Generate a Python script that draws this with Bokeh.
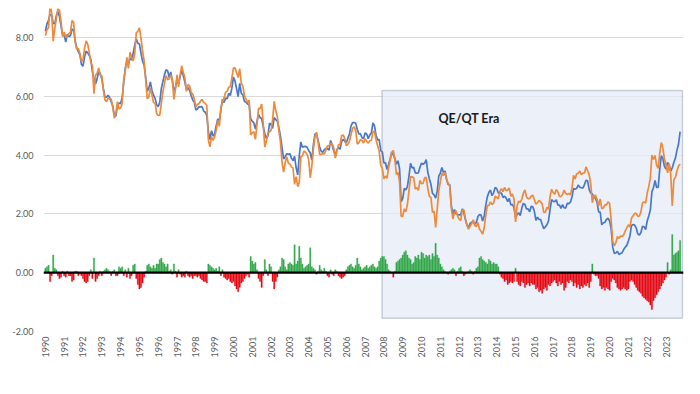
import math
from bokeh.plotting import figure
from bokeh.models import (ColumnDataSource, BoxAnnotation, Span, Label, Legend, LegendItem,
                          FixedTicker, NumeralTickFormatter, Range1d)
from bokeh.embed import file_html
from bokeh.resources import INLINE

start_year = 1990
year_ticks = list(range(1990, 2024))
y_ticks = [-2, 0, 2, 4, 6, 8]
era_label = "QE/QT Era"
era_start, era_end = 2007.9, 2023.88
era_bottom, era_top = -1.55, 6.2

# Monthly 10-year yields, Jan 1990 .. Oct 2023
ten_year_yield = [
    8.21, 8.47, 8.59, 8.79, 8.76, 8.48, 8.47, 8.75, 8.89, 8.72, 8.39, 8.08,
    8.09, 7.85, 8.11, 8.04, 8.07, 8.28, 8.27, 7.90, 7.65, 7.53, 7.42, 7.09,
    7.03, 7.34, 7.54, 7.48, 7.39, 7.26, 6.84, 6.59, 6.42, 6.59, 6.87, 6.77,
    6.60, 6.26, 5.98, 5.97, 6.04, 5.96, 5.81, 5.68, 5.36, 5.33, 5.72, 5.77,
    5.75, 5.97, 6.48, 6.97, 7.18, 7.10, 7.30, 7.24, 7.46, 7.74, 7.96, 7.81,
    7.78, 7.47, 7.20, 7.06, 6.63, 6.17, 6.28, 6.49, 6.20, 6.04, 5.93, 5.71,
    5.65, 5.81, 6.27, 6.51, 6.74, 6.91, 6.87, 6.64, 6.83, 6.53, 6.20, 6.30,
    6.58, 6.42, 6.69, 6.89, 6.71, 6.49, 6.22, 6.30, 6.21, 6.03, 5.88, 5.81,
    5.54, 5.57, 5.65, 5.64, 5.65, 5.50, 5.46, 5.34, 4.81, 4.53, 4.83, 4.65,
    4.72, 5.00, 5.23, 5.18, 5.54, 5.90, 5.79, 5.94, 5.92, 6.11, 6.03, 6.28,
    6.66, 6.52, 6.26, 5.99, 6.44, 6.10, 6.05, 5.83, 5.80, 5.74, 5.72, 5.24,
    5.16, 5.10, 4.89, 5.14, 5.39, 5.28, 5.24, 4.97, 4.73, 4.57, 4.65, 5.09,
    5.04, 4.91, 5.28, 5.21, 5.16, 4.93, 4.65, 4.26, 3.87, 3.94, 4.05, 4.03,
    4.05, 3.90, 3.81, 3.96, 3.57, 3.33, 3.98, 4.45, 4.27, 4.29, 4.30, 4.27,
    4.15, 4.08, 3.83, 4.35, 4.72, 4.73, 4.50, 4.28, 4.13, 4.10, 4.19, 4.23,
    4.22, 4.17, 4.50, 4.34, 4.14, 4.00, 4.18, 4.26, 4.20, 4.46, 4.54, 4.47,
    4.42, 4.57, 4.72, 4.99, 5.11, 5.11, 5.09, 4.88, 4.72, 4.73, 4.60, 4.56,
    4.76, 4.72, 4.56, 4.69, 4.75, 5.10, 5.00, 4.67, 4.52, 4.53, 4.15, 4.10,
    3.74, 3.74, 3.51, 3.68, 3.88, 4.10, 4.01, 3.89, 3.69, 3.81, 3.53, 2.42,
    2.52, 2.87, 2.82, 2.93, 3.29, 3.72, 3.56, 3.59, 3.40, 3.39, 3.40, 3.59,
    3.73, 3.69, 3.73, 3.85, 3.42, 3.20, 3.01, 2.70, 2.65, 2.54, 2.76, 3.29,
    3.39, 3.58, 3.41, 3.46, 3.17, 3.00, 3.00, 2.30, 1.98, 2.15, 2.01, 1.98,
    1.97, 1.97, 2.17, 2.05, 1.80, 1.62, 1.53, 1.68, 1.72, 1.75, 1.65, 1.72,
    1.91, 1.98, 1.96, 1.76, 1.93, 2.30, 2.58, 2.74, 2.81, 2.62, 2.72, 2.90,
    2.86, 2.71, 2.72, 2.71, 2.56, 2.60, 2.54, 2.42, 2.53, 2.30, 2.33, 2.21,
    1.88, 1.98, 2.04, 1.94, 2.20, 2.36, 2.32, 2.17, 2.17, 2.07, 2.26, 2.24,
    2.09, 1.78, 1.89, 1.81, 1.81, 1.64, 1.50, 1.56, 1.63, 1.76, 2.14, 2.49,
    2.43, 2.42, 2.48, 2.30, 2.30, 2.19, 2.32, 2.21, 2.20, 2.36, 2.35, 2.40,
    2.58, 2.86, 2.84, 2.87, 2.98, 2.91, 2.89, 2.89, 3.00, 3.15, 3.12, 2.83,
    2.71, 2.68, 2.57, 2.53, 2.40, 2.07, 2.06, 1.63, 1.70, 1.71, 1.81, 1.86,
    1.76, 1.50, 0.87, 0.66, 0.67, 0.73, 0.62, 0.65, 0.68, 0.79, 0.87, 0.93,
    1.08, 1.26, 1.61, 1.64, 1.62, 1.52, 1.32, 1.28, 1.37, 1.58, 1.56, 1.47,
    1.76, 1.93, 2.13, 2.75, 2.90, 3.14, 2.90, 2.90, 3.52, 3.98, 3.89, 3.62,
    3.53, 3.75, 3.66, 3.46, 3.57, 3.75, 3.90, 4.17, 4.38, 4.80,
]

# Monthly difference (10-year yield minus model fair value yield)
difference = [
    0.15, 0.2, 0.25, -0.3, -0.1, 0.6, 0.15, 0.1, -0.1, -0.2, -0.15, 0.05,
    -0.1, -0.15, 0.05, -0.1, -0.1, -0.3, -0.25, 0.05, 0.05, -0.1, -0.05, -0.1,
    -0.2, -0.3, -0.35, -0.3, -0.1, 0.1, -0.2, 0.5, -0.3, -0.2, -0.1, 0.05,
    -0.1, 0.05, 0.1, 0.15, 0.1, 0.05, -0.1, 0.05, 0.1, -0.1, -0.1, 0.2,
    0.15, 0.2, -0.1, 0.1, -0.15, 0.15, -0.2, -0.1, 0.25, 0.3, -0.2, -0.4,
    -0.55, -0.5, -0.35, -0.15, 0.05, 0.25, 0.3, 0.2, 0.15, 0.25, 0.15, 0.3,
    0.3, 0.45, 0.5, 0.35, 0.3, 0.2, 0.3, 0.05, 0.1, -0.05, 0.3, 0.05,
    -0.15, 0.1, -0.05, -0.15, -0.1, -0.15, 0.05, -0.1, -0.15, -0.1, -0.2, -0.1,
    -0.1, -0.15, -0.1, -0.2, -0.25, -0.3, -0.3, -0.35, 0.3, 0.25, 0.2, 0.15,
    0.1, 0.15, 0.05, 0.2, -0.1, 0.1, -0.15, -0.2, -0.25, -0.2, -0.3, -0.35,
    -0.3, -0.45, -0.55, -0.65, -0.5, -0.35, -0.3, -0.2, -0.1, -0.05, -0.15, 0.55,
    0.4, 0.3, 0.35, 0.1, -0.2, -0.3, -0.5, -0.1, 0.45, 0.1, -0.1, 0.3,
    0.2, -0.3, -0.55, -0.3, -0.15, 0.1, 0.2, 0.5, 0.45, 0.2, 0.1, 0.3,
    0.35, 0.3, 0.25, 0.95, 0.3, 0.4, 0.9, 0.5, 0.3, 0.15, 0.2, 0.25,
    0.3, 0.85, 0.2, 0.15, 0.1, -0.05, 0.05, 0.25, 0.1, 0.05, 0.15, 0.05,
    -0.1, -0.15, 0.1, -0.05, -0.1, 0.1, 0.05, -0.1, -0.15, -0.2, -0.15, -0.1,
    0.1, 0.2, 0.25, 0.3, 0.2, 0.15, 0.25, 0.5, 0.3, 0.2, 0.1, 0.15,
    0.2, 0.25, 0.15, 0.2, 0.25, 0.3, 0.2, 0.15, 0.2, 0.4, 0.5, 0.55,
    0.55, 0.45, 0.3, 0.1, 0.05, 0.0, -0.15, 0.05, 0.35, 0.4, 0.45, 0.5,
    0.6, 0.7, 0.75, 0.6, 0.5, 0.45, 0.3, 0.35, 0.55, 0.5, 0.6, 0.45,
    0.7, 0.65, 0.5, 0.6, 0.55, 0.6, 0.45, 0.65, 0.55, 1.0, 0.6, 0.5,
    0.3, 0.2, 0.1, 0.05, 0.0, -0.05, 0.05, 0.1, 0.15, 0.1, -0.1, 0.05,
    0.15, 0.2, 0.05, -0.1, -0.05, 0.0, 0.05, 0.1, 0.05, -0.05, 0.05, 0.15,
    0.2, 0.5, 0.55, 0.45, 0.4, 0.35, 0.3, 0.45, 0.4, 0.3, 0.35, 0.3,
    0.3, 0.2, -0.05, -0.15, -0.2, -0.3, -0.25, -0.4, -0.35, -0.3, -0.35, -0.3,
    0.15, -0.3, -0.4, -0.45, -0.3, -0.35, -0.5, -0.4, -0.35, -0.45, -0.35, -0.4,
    -0.4, -0.55, -0.5, -0.65, -0.6, -0.7, -0.55, -0.5, -0.6, -0.4, -0.45, -0.35,
    -0.3, -0.25, -0.35, -0.45, -0.3, -0.4, -0.35, -0.6, -0.5, -0.3, -0.35, -0.25,
    -0.3, -0.45, -0.35, -0.5, -0.4, -0.55, -0.45, -0.5, -0.4, -0.45, -0.35, -0.5,
    -0.3, 0.3, -0.05, -0.1, -0.1, -0.2, -0.45, -0.55, -0.5, -0.6, -0.5, -0.55,
    -0.6, -0.3, -0.2, -0.25, -0.35, -0.5, -0.55, -0.6, -0.55, -0.5, -0.55, -0.6,
    -0.55, -0.3, -0.25, -0.3, -0.4, -0.5, -0.6, -0.65, -0.7, -0.8, -0.85, -0.9,
    -0.95, -1.0, -1.1, -1.25, -0.95, -0.85, -0.75, -0.65, -0.55, -0.45, -0.35, -0.25,
    -0.15, 0.35, -0.05, 0.1, 1.3, 0.6, 0.65, 0.7, 0.75, 1.1,
]

n = len(ten_year_yield)
dates = [start_year + i / 12 for i in range(n)]
model_fair_value = [round(y - d, 2) for y, d in zip(ten_year_yield, difference)]

lines = ColumnDataSource(dict(x=dates, y=ten_year_yield, m=model_fair_value))
pos = ColumnDataSource(dict(x=[d for d, v in zip(dates, difference) if v >= 0],
                            top=[v for v in difference if v >= 0]))
neg = ColumnDataSource(dict(x=[d for d, v in zip(dates, difference) if v < 0],
                            top=[v for v in difference if v < 0]))

FONT = "Lato"
TXT = "#595959"

p = figure(width=700, height=394, frame_width=640, frame_height=323,
           output_backend="svg", toolbar_location=None,
           x_range=Range1d(1989.9, 2023.93), y_range=Range1d(-2, 8.99),
           min_border_left=43, min_border_right=17, min_border_top=8, min_border_bottom=0)
p.outline_line_color = None
p.background_fill_color = "white"
p.xgrid.grid_line_color = None
p.ygrid.grid_line_color = "#d9d9d9"
p.ygrid.grid_line_width = 1

era = BoxAnnotation(left=era_start, right=era_end, bottom=era_bottom, top=era_top,
                    fill_color="#e6ebf6", fill_alpha=0.75, line_color="#5d6b8a",
                    line_width=1.5, level="underlay")
p.add_layout(era)

bw = 1 / 12 * 0.85
g_bar = p.vbar(x="x", top="top", bottom=0, width=bw, source=pos,
               fill_color="#34a84c", line_color="#34a84c", line_width=0.3)
r_bar = p.vbar(x="x", top="top", bottom=0, width=bw, source=neg,
               fill_color="#e50914", line_color="#e50914", line_width=0.3)
blue = p.line("x", "y", source=lines, line_color="#4a78c9", line_width=1.7)
orange = p.line("x", "m", source=lines, line_color="#ed8a3c", line_width=1.7)

p.add_layout(Span(location=0, dimension="width", line_color="black", line_width=2.2))

p.add_layout(Label(x=2010.9, y=5.25, text=era_label, text_font=FONT, text_font_style="bold",
                   text_font_size="12.5px", text_color="#1a1a1a",
                   text_baseline="middle", text_align="left"))

p.yaxis.ticker = FixedTicker(ticks=y_ticks)
p.yaxis.formatter = NumeralTickFormatter(format="0.00")
p.xaxis.ticker = FixedTicker(ticks=year_ticks)
p.xaxis.formatter = NumeralTickFormatter(format="0")
p.xaxis.major_label_orientation = math.pi / 2
for ax in (p.xaxis[0], p.yaxis[0]):
    ax.axis_line_color = None
    ax.major_tick_line_color = None
    ax.minor_tick_line_color = None
    ax.major_tick_out = 0
    ax.major_tick_in = 0
    ax.minor_tick_out = 0
    ax.minor_tick_in = 0
    ax.axis_label_standoff = 0
    ax.major_label_text_font = FONT
    ax.major_label_text_font_size = "9px"
    ax.major_label_text_color = TXT
p.yaxis.major_label_standoff = 10
p.xaxis.major_label_standoff = 5

legend = Legend(items=[LegendItem(label="Difference", renderers=[g_bar]),
                       LegendItem(label="10-Year Yields", renderers=[blue]),
                       LegendItem(label="Model Fair Value Yield", renderers=[orange])],
                orientation="horizontal", location="top_center",
                border_line_color=None, background_fill_alpha=0,
                glyph_width=22, glyph_height=7, label_standoff=3, spacing=18,
                label_text_font=FONT, label_text_font_size="8.5px",
                label_text_color=TXT, label_height=10, padding=2, margin=2)
p.add_layout(legend, "below")

open("out.html", "w").write(file_html(p, INLINE))
